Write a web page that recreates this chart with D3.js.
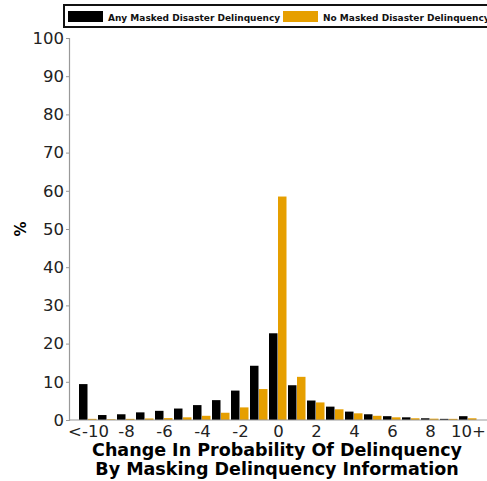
<!DOCTYPE html>
<html><head><meta charset="utf-8">
<script src="https://cdn.jsdelivr.net/npm/d3@7"></script>
<style>body{margin:0;background:#fff}svg{display:block}</style>
</head><body>
<script>
const categories = ["<-10","-9","-8","-7","-6","-5","-4","-3","-2","-1","0","1","2","3","4","5","6","7","8","9","10+"];
const anyMasked = [9.4,1.3,1.5,2.0,2.4,3.0,3.9,5.2,7.7,14.2,22.7,9.1,5.1,3.5,2.2,1.5,1.0,0.7,0.45,0.3,1.0];
const noMasked  = [0.3,0.2,0.3,0.4,0.5,0.7,1.1,1.9,3.3,8.1,58.5,11.3,4.6,2.8,1.75,1.1,0.7,0.45,0.35,0.3,0.45];
const seriesNames = ["Any Masked Disaster Delinquency","No Masked Disaster Delinquency"];
const colors = ["#000000","#E69F00"];
const xTickLabels = ["<-10","-8","-6","-4","-2","0","2","4","6","8","10+"];
const yTicks = [0,10,20,30,40,50,60,70,80,90,100];

const W=487,H=481;
const svg=d3.select("body").append("svg").attr("width",W).attr("height",H);
const x=d3.scalePoint().domain(categories).range([88,468]);
const y=d3.scaleLinear().domain([0,100]).range([420,38]);
const bw=9;

// bars
const series=[anyMasked,noMasked];
series.forEach((vals,si)=>{
  svg.append("g").selectAll("rect").data(vals).join("rect")
    .attr("x",(d,i)=>x(categories[i])+(si===0?-bw:0))
    .attr("width",bw-0.5)
    .attr("y",d=>y(d))
    .attr("height",d=>y(0)-y(d))
    .attr("fill",colors[si]);
});

// y axis
const ya=svg.append("g").attr("transform","translate(69,0)")
  .call(d3.axisLeft(y).tickValues(yTicks).tickSize(3).tickPadding(2));
ya.select(".domain").attr("stroke","#999").attr("stroke-width",1.2);
ya.selectAll(".tick line").attr("stroke","#999");
ya.selectAll("text").attr("font-family","DejaVu Sans").attr("font-size",16.5).attr("fill","#222");

// x axis
const xa=svg.append("g").attr("transform","translate(0,420)")
  .call(d3.axisBottom(x).tickValues(xTickLabels).tickSize(0).tickPadding(5));
xa.select(".domain").remove();
xa.selectAll("text").attr("font-family","DejaVu Sans").attr("font-size",16.5).attr("fill","#222");
svg.append("line").attr("x1",69).attr("x2",487).attr("y1",420).attr("y2",420).attr("stroke","#999").attr("stroke-width",1.2);

// axis titles
svg.append("text").attr("transform","translate(26,229) rotate(-90)").attr("text-anchor","middle")
  .attr("font-family","DejaVu Sans").attr("font-weight","bold").attr("font-size",15).text("%");
const xt=svg.append("text").attr("text-anchor","middle").attr("font-family","DejaVu Sans")
  .attr("font-weight","bold").attr("font-size",17.5).attr("fill","#000");
xt.append("tspan").attr("x",277).attr("y",456).text("Change In Probability Of Delinquency");
xt.append("tspan").attr("x",277).attr("y",475).text("By Masking Delinquency Information");

// legend
const lg=svg.append("g");
lg.append("rect").attr("x",64).attr("y",5).attr("width",440).attr("height",22)
  .attr("fill","#fff").attr("stroke","#111").attr("stroke-width",2);
const lx=[68,283];
seriesNames.forEach((n,i)=>{
  lg.append("rect").attr("x",lx[i]).attr("y",11).attr("width",35).attr("height",11).attr("fill",colors[i]);
  lg.append("text").attr("x",lx[i]+40).attr("y",20.5).attr("font-family","DejaVu Sans")
    .attr("font-weight","bold").attr("font-size",9).attr("fill","#111").text(n);
});
</script>
</body></html>
